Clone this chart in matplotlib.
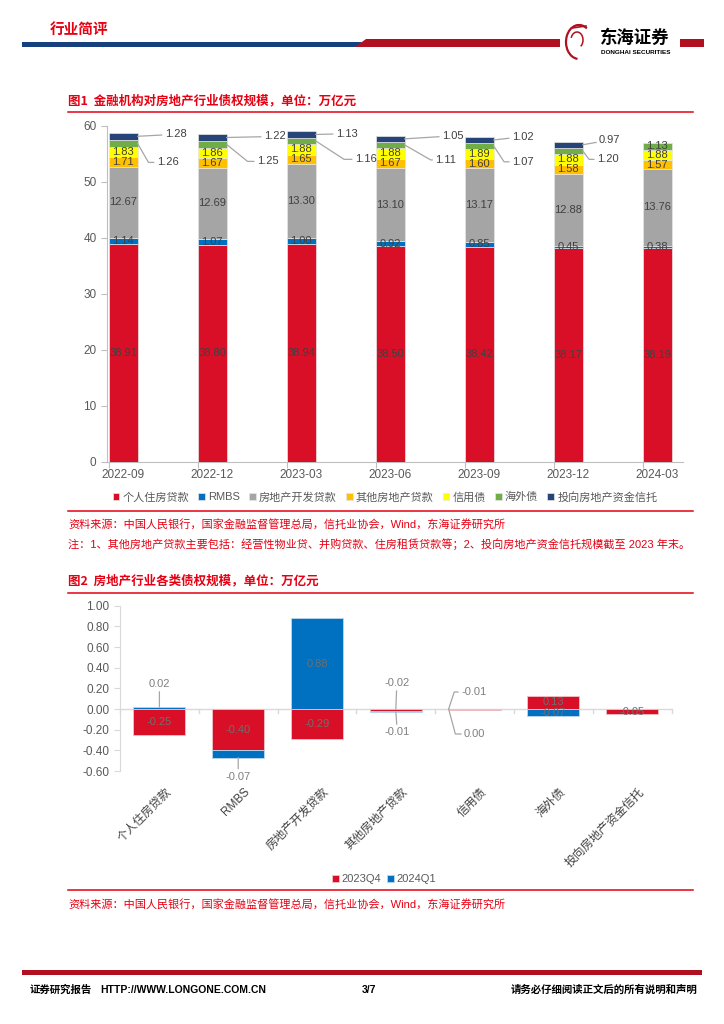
import numpy as np
import matplotlib
matplotlib.use('Agg')
import matplotlib.pyplot as plt
from matplotlib.patches import Polygon, Rectangle, Arc
from matplotlib.lines import Line2D

plt.rcParams['font.family'] = ['Liberation Sans', 'Noto Sans CJK SC', 'DejaVu Sans']

# ---------------- data: chart 1 ----------------
periods = ['2022-09', '2022-12', '2023-03', '2023-06', '2023-09', '2023-12', '2024-03']
series1_names = ['个人住房贷款', 'RMBS', '房地产开发贷款', '其他房地产贷款', '信用债', '海外债', '投向房地产资金信托']
personal_mortgage = [38.91, 38.80, 38.94, 38.50, 38.42, 38.17, 38.19]
rmbs = [1.14, 1.07, 1.00, 0.92, 0.85, 0.45, 0.38]
dev_loans = [12.67, 12.69, 13.30, 13.10, 13.17, 12.88, 13.76]
other_loans = [1.71, 1.67, 1.65, 1.67, 1.60, 1.58, 1.57]
credit_bonds = [1.83, 1.86, 1.88, 1.88, 1.89, 1.88, 1.88]
overseas_bonds = [1.26, 1.25, 1.16, 1.11, 1.07, 1.20, 1.13]
trust = [1.28, 1.22, 1.13, 1.05, 1.02, 0.97, None]

# ---------------- data: chart 2 ----------------
categories2 = ['个人住房贷款', 'RMBS', '房地产开发贷款', '其他房地产贷款', '信用债', '海外债', '投向房地产资金信托']
series2_names = ['2023Q4', '2024Q1']
q4_2023 = [-0.25, -0.40, -0.29, -0.02, -0.01, 0.13, -0.05]
q1_2024 = [0.02, -0.07, 0.88, -0.01, 0.00, -0.07, None]

# ---------------- styles ----------------
colors1 = ['#D90F27', '#0070C0', '#A5A5A5', '#FFC000', '#FFFF00', '#70AD47', '#264478']
colors2 = ['#D90F27', '#0070C0']
RED_T = '#E60012'
GRID = '#BFBFBF'
TXT = '#595959'
LBL = '#404040'

fig = plt.figure(figsize=(7.24, 10.24), dpi=100)

# background / decoration layer in pixel coords
bg = fig.add_axes([0, 0, 1, 1])
bg.set_xlim(0, 724)
bg.set_ylim(1024, 0)
bg.axis('off')

# header
bg.text(50, 29, '行业简评', color=RED_T, fontsize=10.5, fontweight='bold',
        family=['Noto Sans CJK SC'], va='center', ha='left')
bg.add_patch(Polygon([(22, 42), (362, 42), (357, 47), (22, 47)], closed=True,
                     facecolor='#17407E', edgecolor='none'))
bg.add_patch(Polygon([(366, 39), (560, 39), (560, 47), (355, 47)], closed=True,
                     facecolor='#B01020', edgecolor='none'))
bg.add_patch(Rectangle((680, 39), 24, 8, facecolor='#B01020', edgecolor='none'))
bg.add_patch(Arc((579, 42), 26, 34, theta1=95, theta2=300, color='#B01020', lw=1.6))
bg.add_patch(Arc((577, 40), 12, 16, theta1=200, theta2=60, color='#B01020', lw=1.1))
bg.plot([572, 586], [28, 26], color='#B01020', lw=1.2)
bg.text(600, 38, '东海证券', color='black', fontsize=12.5, fontweight='bold',
        family=['Noto Sans CJK SC'], va='center', ha='left')
bg.text(601, 52, 'DONGHAI SECURITIES', color='black', fontsize=4.6, fontweight='bold',
        va='center', ha='left')

# chart 1 title and lines
bg.text(68, 101, '图1  金融机构对房地产行业债权规模，单位：万亿元', color=RED_T, fontsize=9,
        fontweight='bold', family=['Noto Sans CJK SC'], va='center', ha='left')
bg.plot([68, 693], [112, 112], color=RED_T, lw=1.1)
bg.plot([68, 693], [511, 511], color=RED_T, lw=1.1)
bg.text(68, 524, '资料来源：中国人民银行，国家金融监督管理总局，信托业协会，Wind，东海证券研究所',
        color=RED_T, fontsize=8, va='center', ha='left')
bg.text(68, 544, '注：1、其他房地产贷款主要包括：经营性物业贷、并购贷款、住房租赁贷款等；2、投向房地产资金信托规模截至 2023 年末。',
        color=RED_T, fontsize=8, va='center', ha='left')

# chart 2 title and lines
bg.text(68, 581, '图2  房地产行业各类债权规模，单位：万亿元', color=RED_T, fontsize=9,
        fontweight='bold', family=['Noto Sans CJK SC'], va='center', ha='left')
bg.plot([68, 693], [593, 593], color=RED_T, lw=1.1)
bg.plot([68, 693], [890, 890], color=RED_T, lw=1.1)
bg.text(68, 904, '资料来源：中国人民银行，国家金融监督管理总局，信托业协会，Wind，东海证券研究所',
        color=RED_T, fontsize=8, va='center', ha='left')

# footer
bg.add_patch(Rectangle((22, 970), 680, 5, facecolor='#B01020', edgecolor='none'))
bg.text(30, 990, '证券研究报告', color='black', fontsize=7.5, fontweight='bold',
        family=['Noto Sans CJK SC'], va='center', ha='left')
bg.text(100, 990, 'HTTP://WWW.LONGONE.COM.CN', color='black', fontsize=7.5, fontweight='bold',
        va='center', ha='left')
bg.text(362, 990, '3/7', color='black', fontsize=7.5, fontweight='bold', va='center', ha='left')
bg.text(697, 990, '请务必仔细阅读正文后的所有说明和声明', color='black', fontsize=7.5, fontweight='bold',
        family=['Noto Sans CJK SC'], va='center', ha='right')

# ---------------- chart 1 ----------------
ax1 = fig.add_axes([107 / 724, (1024 - 462) / 1024, 576 / 724, 336 / 1024])
x = np.arange(len(periods))
w1 = 0.326
series1 = [personal_mortgage, rmbs, dev_loans, other_loans, credit_bonds, overseas_bonds, trust]
bottom = np.zeros(len(periods))
seg_bottoms = []
handles1 = []
for s, vals in enumerate(series1):
    idx = [i for i, v in enumerate(vals) if v is not None]
    hv = np.array([vals[i] for i in idx])
    bars = ax1.bar(x[idx], hv, w1, bottom=bottom[idx], color=colors1[s],
                   edgecolor='#E6E6E6', linewidth=0.5, zorder=3)
    handles1.append(bars)
    seg_bottoms.append(bottom.copy())
    for i in idx:
        bottom[i] += vals[i]

# leader-label offsets (pixels from bar right edge / segment center); None = label inside
lead_overseas = [(30, -19), (41, -17), (50, -18.5), (41, -15), (29, -16), (25, -8.5), None]
angle_overseas = [-60, -39, -33, -30, -57, -53, None]
lead_trust = [(38, 2), (48, 1), (31, 0.7), (48, 3), (29, 3.2), (27, 4.8), None]

for s, vals in enumerate(series1):
    for i, v in enumerate(vals):
        if v is None:
            continue
        yc = seg_bottoms[s][i] + v / 2
        txt = f'{v:.2f}'
        if s == 5 and lead_overseas[i] is not None:
            ax1.annotate(txt, xy=(x[i] + w1 / 2, yc), xytext=lead_overseas[i],
                         textcoords='offset pixels', fontsize=8, color=LBL,
                         ha='center', va='center', zorder=5,
                         arrowprops=dict(arrowstyle='-', color='#A6A6A6', lw=0.9,
                                         shrinkA=0, shrinkB=0,
                                         connectionstyle=f'angle,angleA=0,angleB={angle_overseas[i]},rad=0'))
        elif s == 6 and lead_trust[i] is not None:
            ax1.annotate(txt, xy=(x[i] + w1 / 2, yc), xytext=lead_trust[i],
                         textcoords='offset pixels', fontsize=8, color=LBL,
                         ha='center', va='center', zorder=5,
                         arrowprops=dict(arrowstyle='-', color='#A6A6A6', lw=0.9,
                                         shrinkA=0, shrinkB=0))
        else:
            ax1.text(x[i], yc, txt, fontsize=8, color=LBL, ha='center', va='center', zorder=5)

ax1.set_xlim(-0.18, 6.29)
ax1.set_ylim(0, 60)
ax1.set_yticks(range(0, 61, 10))
ax1.set_xticks(x)
ax1.set_xticklabels(periods)
ax1.set_xticks(x - w1 / 2, minor=True)
for sp in ['top', 'right']:
    ax1.spines[sp].set_visible(False)
for sp in ['left', 'bottom']:
    ax1.spines[sp].set_color(GRID)
    ax1.spines[sp].set_linewidth(0.8)
ax1.tick_params(axis='y', colors=GRID, labelcolor=TXT, labelsize=8.5, length=4, width=0.8)
ax1.tick_params(axis='x', which='major', length=0, labelcolor=TXT, labelsize=8.5, pad=5)
ax1.tick_params(axis='x', which='minor', length=4, color=GRID, width=0.8)

fig.legend(handles1, series1_names, loc='center', bbox_to_anchor=(385 / 724, 1 - 497 / 1024),
           ncol=7, frameon=False, fontsize=8, handlelength=0.6, handleheight=0.6,
           handletextpad=0.3, columnspacing=0.8, labelcolor=TXT, borderpad=0)

# ---------------- chart 2 ----------------
ax2 = fig.add_axes([120 / 724, (1024 - 771) / 1024, 551.7 / 724, 165.3 / 1024])
x2 = np.arange(len(categories2))
w2 = 0.66
ax2.axhline(0, color='#D9D9D9', lw=1.0, zorder=2)
handles2 = []
b_red = ax2.bar(x2, q4_2023, w2, color=colors2[0], edgecolor='#F2C4CA', linewidth=0.6, zorder=3)
handles2.append(b_red)
blue_idx = [i for i, v in enumerate(q1_2024) if v is not None]
blue_vals = [q1_2024[i] for i in blue_idx]
blue_bottom = [max(q4_2023[i], 0) if q1_2024[i] >= 0 else min(q4_2023[i], 0) for i in blue_idx]
b_blue = ax2.bar(x2[blue_idx], blue_vals, w2, bottom=blue_bottom, color=colors2[1],
                 edgecolor='#BDD7EE', linewidth=0.6, zorder=3)
handles2.append(b_blue)

# category boundary tick marks on the zero line
for bnd in np.arange(-0.5, len(categories2) + 0.5, 1.0):
    ax2.plot([bnd, bnd], [0, -0.04], color='#D9D9D9', lw=1.0, zorder=2, clip_on=False)

# label placement: inside unless given a leader offset (pixels)
lead2 = {
    (1, 0): ('top', 0.0, (0, 23), None),
    (1, 1): ('bottom', 0.0, (0, -19), None),
    (0, 3): ('top', 0.0, (1, 26), None),
    (1, 3): ('bottom', 0.0, (1.5, -20), None),
    (0, 4): ('top', -w2 / 2, (25, 17), 72),
    (1, 4): ('top', -w2 / 2, (26, -25), -75),
}
all2 = [q4_2023, q1_2024]
for s, vals in enumerate(all2):
    for i, v in enumerate(vals):
        if v is None:
            continue
        if s == 0:
            b0 = 0.0
        else:
            b0 = blue_bottom[blue_idx.index(i)]
        lo, hi = min(b0, b0 + v), max(b0, b0 + v)
        txt = f'{v:.2f}'
        if (s, i) in lead2:
            anchor, dx, off, ang = lead2[(s, i)]
            yy = hi if anchor == 'top' else lo
            cs = 'arc3,rad=0' if ang is None else f'angle,angleA=0,angleB={ang},rad=0'
            ax2.annotate(txt, xy=(x2[i] + dx, yy), xytext=off, textcoords='offset pixels',
                         fontsize=8, color='#7F7F7F', ha='center', va='center', zorder=5,
                         arrowprops=dict(arrowstyle='-', color='#A6A6A6', lw=0.9,
                                         shrinkA=0, shrinkB=0, connectionstyle=cs))
        else:
            ax2.text(x2[i], (lo + hi) / 2, txt, fontsize=8, color='#6E6E6E',
                     ha='center', va='center', zorder=5)

ax2.set_xlim(-0.5, len(categories2) - 0.5)
ax2.set_ylim(-0.6, 1.0)
ax2.set_yticks(np.arange(-0.6, 1.001, 0.2))
ax2.yaxis.set_major_formatter(matplotlib.ticker.FormatStrFormatter('%.2f'))
ax2.set_xticks([])
for sp in ['top', 'right', 'bottom']:
    ax2.spines[sp].set_visible(False)
ax2.spines['left'].set_color('#D9D9D9')
ax2.spines['left'].set_linewidth(0.8)
ax2.tick_params(axis='y', colors='#D9D9D9', labelcolor=TXT, labelsize=8.5, length=4, width=0.8)
for i, name in enumerate(categories2):
    ax2.text(x2[i] + 0.07, -0.745, name, rotation=45, ha='right', va='top',
             rotation_mode='anchor', fontsize=8.5, color=LBL, clip_on=False)

fig.legend(handles2, series2_names, loc='center', bbox_to_anchor=(384 / 724, 1 - 879 / 1024),
           ncol=2, frameon=False, fontsize=8, handlelength=0.6, handleheight=0.6,
           handletextpad=0.2, columnspacing=0.6, labelcolor=TXT, borderpad=0)

fig.savefig('out.png', dpi=100)
